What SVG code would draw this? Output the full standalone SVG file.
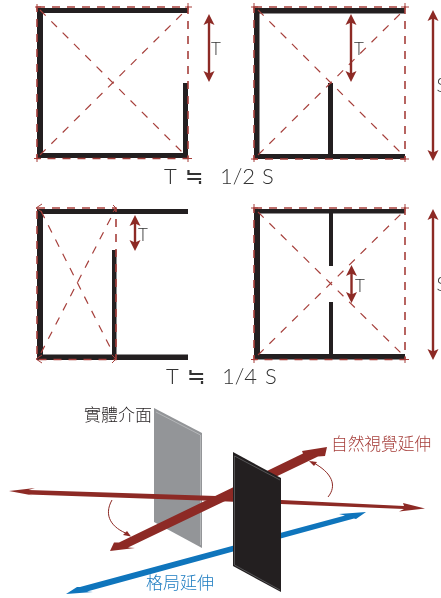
<svg xmlns="http://www.w3.org/2000/svg" width="441" height="598" viewBox="0 0 441 598">
<defs><filter id="g" x="-10%" y="-10%" width="120%" height="120%" color-interpolation-filters="sRGB"><feOffset dx="0" dy="0"/></filter></defs>
<style>
.w{fill:#231f20}
.b{fill:none;stroke:#a63f3b;stroke-width:1.6;stroke-dasharray:8 7}
.d{fill:none;stroke:#a63f3b;stroke-width:1.2;stroke-dasharray:8 8}
.t{fill:none;stroke:#a63f3b;stroke-width:1}
.a{fill:none;stroke:#8d2a25;stroke-width:2.4}
.h{fill:#8d2a25}
.l{font-family:"Lato","Liberation Sans",sans-serif;font-weight:300;fill:#333;filter:url(#g)}
.c{font-family:"Noto Sans CJK TC",sans-serif;font-weight:300;filter:url(#g)}
.e{font-family:"Noto Sans CJK TC",sans-serif;font-weight:300}
</style>
<rect width="441" height="598" fill="#fff"/>
<g id="panel-1">
<rect class="w" x="37" y="8" width="151" height="5"/><rect class="w" x="37" y="153" width="151" height="5"/><rect class="w" x="37" y="8" width="6" height="150"/><rect class="w" x="183" y="83" width="5" height="75"/>
<rect class="b" x="37" y="7" width="151" height="151.500"/>
<path class="d" d="M40 10L186 156M40 155L186 10"/>
<path class="t" d="M35 7H41M37 4V10M185 7H192M188 3V10M34 158.500H41M37 155V162M185 158.500H192M188 155V162"/>
<path class="a" d="M209 20V76"/><path class="h" d="M209 14L214.500 25L209 22.500L203.500 25ZM209 82L203.500 71L209 73.500L214.500 71Z"/>
<text class="l" x="211" y="54.500" font-size="17">T</text>
</g>
<g id="panel-2">
<rect class="w" x="254" y="8" width="151" height="5.500"/><rect class="w" x="254" y="154" width="151" height="5"/><rect class="w" x="254" y="8" width="5.500" height="151"/><rect class="w" x="328" y="83" width="5" height="72"/>
<rect class="b" x="254" y="7" width="151" height="152"/>
<path class="d" d="M258 10L404 156M258 155L404 10"/>
<path class="t" d="M251 7H258M254 3V10M401 7H409M405 3V10M251 159H258M254 156V162M401 159H409M405 156V162"/>
<path class="a" d="M351 20V76"/><path class="h" d="M351 14L356.500 25L351 22.500L345.500 25ZM351 82L345.500 71L351 73.500L356.500 71Z"/>
<text class="l" x="354" y="54.500" font-size="17">T</text>
<path class="a" d="M433 16V154"/><path class="h" d="M433 10L438.500 21L433 18.500L427.500 21ZM433 161L427.500 150L433 152.500L438.500 150Z"/>
<text class="l" x="436.500" y="92" font-size="19">S</text>
</g>
<text id="caption-1" class="l" x="164" y="184" font-size="22">T<tspan x="185" class="e">≒</tspan><tspan x="220">1/2</tspan><tspan x="262">S</tspan></text>
<g id="panel-3">
<rect class="w" x="37" y="209" width="151" height="5"/><rect class="w" x="37" y="354.500" width="151" height="5.500"/><rect class="w" x="37" y="209" width="6" height="151"/><rect class="w" x="112" y="250" width="4.500" height="106"/>
<rect class="b" x="37" y="208" width="79" height="151.500"/>
<path class="d" d="M41 211L113 353M41 353L116 208"/>
<path class="t" d="M36 208L42 212M36 208L42 204M116 208L113 205M116 208L113 212M36 359L42 355M36 359L42 363M116 359L112 355M116 359L112 363"/>
<path class="a" d="M135 221V245"/><path class="h" d="M135 215L140.500 226L135 223.500L129.500 226ZM135 251L129.500 240L135 242.500L140.500 240Z"/>
<text class="l" x="138" y="240.500" font-size="17">T</text>
</g>
<g id="panel-4">
<rect class="w" x="254" y="209" width="151" height="4.500"/><rect class="w" x="254" y="354" width="151" height="5.500"/><rect class="w" x="254" y="209" width="6" height="150"/><rect class="w" x="329" y="209" width="4" height="57"/><rect class="w" x="329" y="302" width="4" height="53"/>
<rect class="b" x="254" y="208" width="151" height="151.500"/>
<path class="d" d="M258 212L404 356M258 355L404 211"/>
<path class="t" d="M251 208H258M254 204V211M401 208H409M405 204V211M251 359.500H258M254 356V363M401 359.500H409M405 356V363"/>
<path class="a" d="M351.500 271V297"/><path class="h" d="M351.500 265L357 276L351.500 273.500L346 276ZM351.500 303L346 292L351.500 294.500L357 292Z"/>
<text class="l" x="355" y="291.500" font-size="17">T</text>
<path class="a" d="M433 215V353"/><path class="h" d="M433 209L438.500 220L433 217.500L427.500 220ZM433 360L427.500 349L433 351.500L438.500 349Z"/>
<text class="l" x="436.500" y="291" font-size="19">S</text>
</g>
<text id="caption-2" class="l" x="166" y="384" font-size="22">T<tspan x="187" class="e">≒</tspan><tspan x="222">1/4</tspan><tspan x="265">S</tspan></text>
<g id="plane-gray"><path d="M154 408L202 433V548L154 522Z" fill="#939598"/><path d="M156 412L200.500 435V545" fill="none" stroke="#c9cbcd" stroke-width=".6"/></g>
<g id="connectors">
<path class="h" d="M9 491L35 488L28.500 490L216 496L281 500L404 506L403 503L425 508.500L399 511.500L404 509L281 504L216 501L28.500 494.500L33 495.500Z"/>
<path d="M112 500C103 516 112 528 128 534" style="stroke:#8d2a25;fill:none;stroke-width:1"/>
<path class="h" d="M131 536.500L123 535L127 531Z"/>
<path class="h" d="M110 551L114 542.500L119 542.500L303 453.500L302 451L327 447L325 456L318 456.500L128 547.500L135 548Z"/>
<path d="M328 497C337 486 333 473 312 462" style="stroke:#8d2a25;fill:none;stroke-width:1"/>
<path class="h" d="M309 461L317 462L314 466Z"/>
<path d="M66 594L77 587L80 587L345 515.500L339 514L366 512L356 519L354 518.500L87 591.500L93 592Z" fill="#0f75bc"/>
</g>
<g id="plane-black"><path d="M233 452L281 478V592L233 566Z" fill="#231f20"/><path d="M234.500 456V565L280 590M234.500 456L280 480" fill="none" stroke="#77787b" stroke-width=".6"/></g>
<text id="label-interface" class="c" x="84" y="421" font-size="17" fill="#231f20">實體介面</text>
<text id="label-natural" class="c" x="331" y="450" font-size="16.700" fill="#a63f3b">自然視覺延伸</text>
<text id="label-grid" class="c" x="146" y="589" font-size="17" fill="#1b7bc0">格局延伸</text>
</svg>
